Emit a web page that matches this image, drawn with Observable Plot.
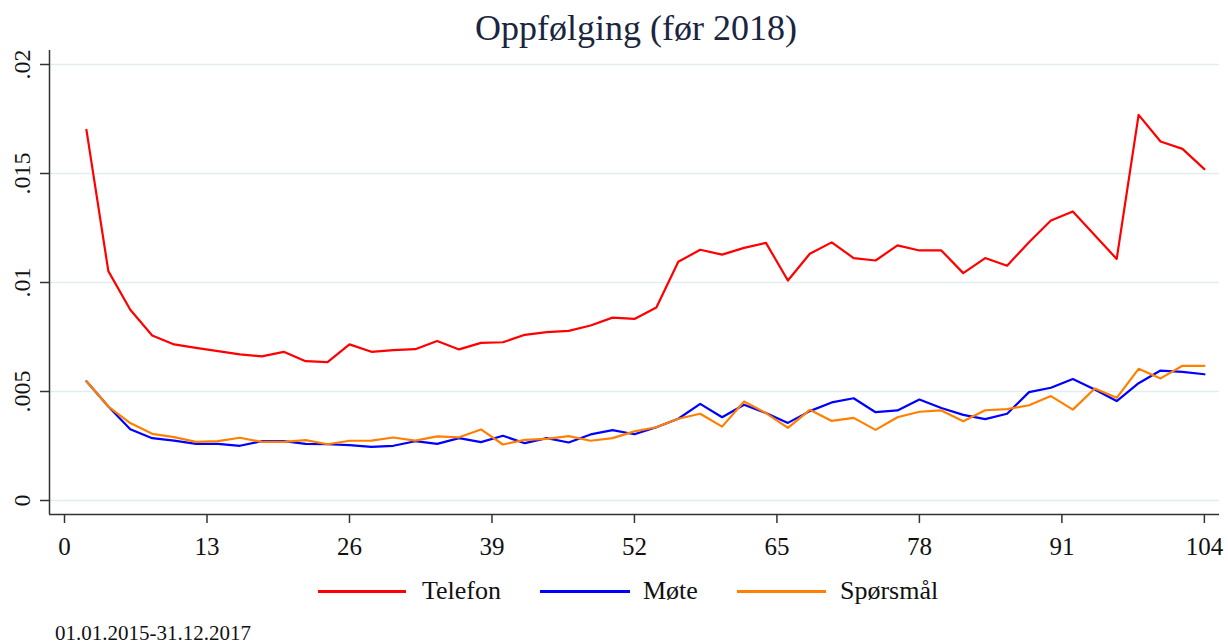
<!DOCTYPE html>
<html>
<head>
<meta charset="utf-8">
<script src="https://cdn.jsdelivr.net/npm/d3@7"></script>
<script src="https://cdn.jsdelivr.net/npm/@observablehq/plot@0.6"></script>
<style>
  html, body { margin: 0; padding: 0; background: #fff; }
  body { width: 1228px; height: 643px; overflow: hidden; font-family: "Liberation Serif", "DejaVu Serif", serif; color: #111; }
  #title { height: 40px; margin-left: 44px; width: 1184px; text-align: center; font-size: 36px; line-height: 56px; color: #1a2540; white-space: nowrap; }
  #chart svg { display: block; overflow: visible; }
  #legend { position: relative; height: 42px; }
  .lg-line { position: absolute; top: 20px; height: 2.5px; }
  .lg-text { position: absolute; top: 0; font-size: 26px; line-height: 42px; }
  #caption { position: relative; height: 42px; font-size: 21px; line-height: 42px; padding-left: 55px; }
</style>
</head>
<body>
<div id="title">Oppfølging (før 2018)</div>
<div id="chart"></div>
<div id="legend"></div>
<div id="caption">01.01.2015-31.12.2017</div>
<script>
const weeks = [2,4,6,8,10,12,14,16,18,20,22,24,26,28,30,32,34,36,38,40,42,44,46,48,50,52,
               54,56,58,60,62,64,66,68,70,72,74,76,78,80,82,84,86,88,90,92,94,96,98,100,102,104];
const telefon = [0.0170,0.01052,0.00875,0.00757,0.00716,0.00700,0.00685,0.00670,0.00661,0.00682,0.00639,0.00635,0.00716,
                 0.00682,0.00690,0.00694,0.00732,0.00693,0.00723,0.00726,0.00760,0.00772,0.00778,0.00803,0.00839,0.00833,
                 0.00885,0.01095,0.01150,0.01128,0.01159,0.01182,0.01009,0.01132,0.01184,0.01112,0.01101,0.01170,0.01147,
                 0.01147,0.01043,0.01112,0.01077,0.01185,0.01284,0.01326,0.01217,0.01108,0.01769,0.01647,0.01613,0.01520];
const mote = [0.00547,0.00431,0.00327,0.00286,0.00275,0.00260,0.00260,0.00251,0.00272,0.00272,0.00260,0.00258,0.00254,
              0.00246,0.00251,0.00272,0.00260,0.00286,0.00268,0.00297,0.00263,0.00286,0.00266,0.00303,0.00323,0.00304,
              0.00336,0.00375,0.00443,0.00382,0.00439,0.00401,0.00356,0.00410,0.00450,0.00469,0.00405,0.00413,0.00463,
              0.00424,0.00393,0.00373,0.00398,0.00497,0.00517,0.00557,0.00509,0.00456,0.00538,0.00596,0.00590,0.00579];
const sporsmal = [0.00547,0.00431,0.00355,0.00306,0.00291,0.00269,0.00272,0.00288,0.00269,0.00269,0.00277,0.00258,0.00274,
                  0.00275,0.00289,0.00275,0.00294,0.00290,0.00326,0.00257,0.00278,0.00283,0.00295,0.00274,0.00286,0.00317,
                  0.00336,0.00375,0.00398,0.00339,0.00454,0.00401,0.00333,0.00416,0.00365,0.00379,0.00324,0.00382,0.00407,
                  0.00413,0.00364,0.00414,0.00419,0.00437,0.00479,0.00417,0.00514,0.00471,0.00604,0.00560,0.00618,0.00618];
const seriesNames = ["Telefon", "Møte", "Spørsmål"];
const seriesColors = ["#ff0000", "#0000ff", "#ff8000"];
const yTicks = [0, 0.005, 0.01, 0.015, 0.02];
const yTickLabels = ["0", ".005", ".01", ".015", ".02"];
const xTicks = [0, 13, 26, 39, 52, 65, 78, 91, 104];

const seriesValues = [telefon, mote, sporsmal];
const rows = [];
seriesNames.forEach((name, s) => {
  weeks.forEach((w, i) => rows.push({week: w, value: seriesValues[s][i], series: name}));
});

const xDomain = [-1.37, 105.38];
const yDomain = [-0.000642, 0.020642];

const chart = Plot.plot({
  width: 1228,
  height: 530,
  marginLeft: 49,
  marginRight: 9,
  marginTop: 10,
  marginBottom: 56,
  style: {fontFamily: "Liberation Serif, DejaVu Serif, serif", overflow: "visible", background: "transparent", color: "#111"},
  x: {domain: xDomain, axis: null},
  y: {domain: yDomain, axis: null},
  color: {domain: seriesNames, range: seriesColors},
  marks: [
    Plot.gridY(yTicks, {stroke: "#e3edf0", strokeOpacity: 1, strokeWidth: 1.5}),
    Plot.ruleX([xDomain[0]], {stroke: "#333", strokeWidth: 1.5}),
    Plot.ruleY([yDomain[0]], {stroke: "#333", strokeWidth: 1.5}),
    Plot.axisY(yTicks, {tickSize: 9, tickFormat: () => "", label: null, stroke: "#333", strokeWidth: 1.5}),
    Plot.text(yTicks, {y: d => d, text: (d, i) => yTickLabels[i], frameAnchor: "left", dx: -27, rotate: -90,
                       fontSize: 24, textAnchor: "middle", lineAnchor: "middle", fill: "#111"}),
    Plot.axisX(xTicks, {tickSize: 9, tickPadding: 14, fontSize: 25, label: null, stroke: "#333", strokeWidth: 1.5, fill: "#111"}),
    Plot.line(rows, {x: "week", y: "value", z: "series", stroke: "series", strokeWidth: 2.2, strokeLinejoin: "round"})
  ]
});
document.getElementById("chart").appendChild(chart);

// legend
const legend = document.getElementById("legend");
const legendPos = [[318, 406, 422], [540, 630, 643], [737, 826, 840]];
seriesNames.forEach((name, i) => {
  const [x0, x1, tx] = legendPos[i];
  const ln = document.createElement("div");
  ln.className = "lg-line";
  ln.style.left = x0 + "px";
  ln.style.width = (x1 - x0) + "px";
  ln.style.background = seriesColors[i];
  legend.appendChild(ln);
  const tt = document.createElement("div");
  tt.className = "lg-text";
  tt.style.left = tx + "px";
  tt.textContent = name;
  legend.appendChild(tt);
});
</script>
</body>
</html>
